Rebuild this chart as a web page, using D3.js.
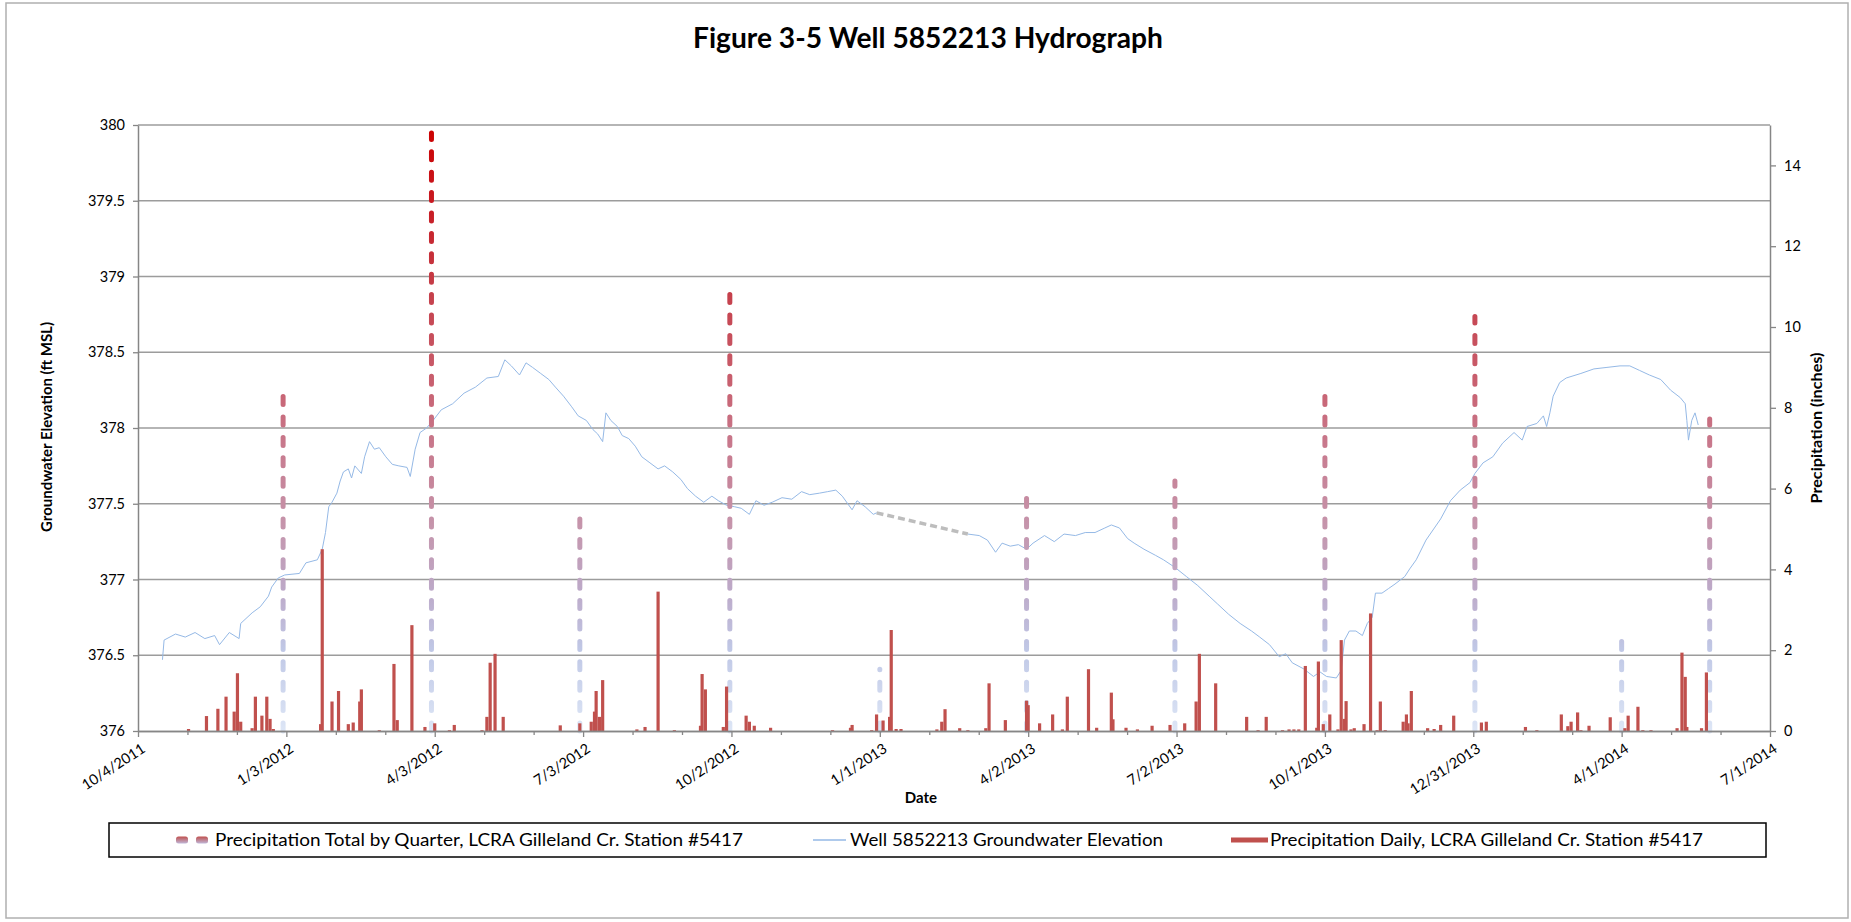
<!DOCTYPE html>
<html>
<head>
<meta charset="utf-8">
<script src="https://cdnjs.cloudflare.com/ajax/libs/d3/7.8.5/d3.min.js"></script>
<style>
  body { margin: 0; background: #fff; }
  svg text { font-family: Lato, "Open Sans", sans-serif; fill: #000; }
</style>
</head>
<body>
<svg id="chart"></svg>
<script>
// ---- data ----
const xTickLabels = ['10/4/2011', '1/3/2012', '4/3/2012', '7/3/2012', '10/2/2012', '1/1/2013',
  '4/2/2013', '7/2/2013', '10/1/2013', '12/31/2013', '4/1/2014', '7/1/2014']
const elevTicks = [376, 376.5, 377, 377.5, 378, 378.5, 379, 379.5, 380]
const precipTicks = [0, 2, 4, 6, 8, 10, 12, 14]

const quarterDates = ['2012-01-01', '2012-04-01', '2012-07-01', '2012-10-01', '2013-01-01', '2013-04-01',
  '2013-07-01', '2013-10-01', '2014-01-01', '2014-04-01', '2014-05-25']
const quarterTotals = [8.40, 14.8, 5.32, 10.96, 1.53, 5.82, 6.19, 8.36, 10.26, 2.29, 7.72]

const dailyDates = [
  '2011-11-04', '2011-11-15', '2011-11-22', '2011-11-27', '2011-12-02', '2011-12-04', '2011-12-06', '2011-12-13',
  '2011-12-15', '2011-12-19', '2011-12-22', '2011-12-24', '2011-12-26', '2012-01-24', '2012-01-25', '2012-01-31',
  '2012-02-04', '2012-02-10', '2012-02-13', '2012-02-17', '2012-02-18', '2012-02-29', '2012-03-09', '2012-03-11',
  '2012-03-20', '2012-03-28', '2012-04-03', '2012-04-12', '2012-04-15', '2012-05-02', '2012-05-05', '2012-05-07',
  '2012-05-10', '2012-05-15', '2012-06-19', '2012-07-01', '2012-07-08', '2012-07-10', '2012-07-11', '2012-07-13',
  '2012-07-15', '2012-08-05', '2012-08-10', '2012-08-18', '2012-08-28', '2012-09-13', '2012-09-14', '2012-09-16',
  '2012-09-27', '2012-09-29', '2012-10-11', '2012-10-13', '2012-10-16', '2012-10-26', '2012-12-03', '2012-12-14',
  '2012-12-15', '2012-12-27', '2012-12-30', '2013-01-03', '2013-01-07', '2013-01-08', '2013-01-11', '2013-01-14',
  '2013-02-05', '2013-02-08', '2013-02-10', '2013-02-19', '2013-02-24', '2013-03-07', '2013-03-09', '2013-03-19',
  '2013-04-01', '2013-04-02', '2013-04-09', '2013-04-17', '2013-04-23', '2013-04-26', '2013-05-09', '2013-05-14',
  '2013-05-23', '2013-05-24', '2013-06-01', '2013-06-08', '2013-06-17', '2013-06-28', '2013-07-07', '2013-07-14',
  '2013-07-16', '2013-07-26', '2013-08-14', '2013-08-21', '2013-08-26', '2013-09-05', '2013-09-09', '2013-09-12',
  '2013-09-15', '2013-09-19', '2013-09-26', '2013-09-27', '2013-09-30', '2013-10-04', '2013-10-09', '2013-10-11',
  '2013-10-13', '2013-10-14', '2013-10-17', '2013-10-19', '2013-10-25', '2013-10-29', '2013-11-02', '2013-11-04',
  '2013-11-07', '2013-11-18', '2013-11-20', '2013-11-21', '2013-11-23', '2013-12-03', '2013-12-07', '2013-12-11',
  '2013-12-19', '2014-01-05', '2014-01-08', '2014-02-01', '2014-02-08', '2014-02-23', '2014-02-27', '2014-03-01',
  '2014-03-05', '2014-03-07', '2014-03-12', '2014-03-25', '2014-04-03', '2014-04-05', '2014-04-11', '2014-04-14',
  '2014-04-19', '2014-05-05', '2014-05-08', '2014-05-10', '2014-05-11', '2014-05-20', '2014-05-23']
const dailyPrecip = [
  0.05, 0.37, 0.55, 0.85, 0.48, 1.43, 0.23, 0.07,
  0.85, 0.38, 0.85, 0.30, 0.05, 0.17, 4.50, 0.73,
  0.99, 0.17, 0.21, 0.73, 1.03, 0.02, 1.66, 0.27,
  2.62, 0.10, 0.19, 0.02, 0.15, 0.02, 0.35, 1.69,
  1.91, 0.35, 0.14, 0.19, 0.23, 0.48, 0.99, 0.35,
  1.26, 0.04, 0.10, 3.45, 0.02, 0.13, 1.41, 1.03,
  0.10, 1.10, 0.38, 0.23, 0.13, 0.08, 0.02, 0.08,
  0.15, 0.02, 0.41, 0.26, 0.35, 2.50, 0.05, 0.05,
  0.04, 0.23, 0.54, 0.07, 0.02, 0.07, 1.18, 0.27,
  0.75, 0.64, 0.19, 0.41, 0.04, 0.85, 1.53, 0.08,
  0.95, 0.29, 0.08, 0.04, 0.13, 0.15, 0.19, 0.73,
  1.91, 1.18, 0.35, 0.02, 0.35, 0.02, 0.04, 0.04,
  0.04, 1.61, 0.08, 1.72, 0.17, 0.41, 0.04, 2.25,
  0.30, 0.74, 0.04, 0.07, 0.17, 2.91, 0.02, 0.73,
  0.02, 0.23, 0.41, 0.19, 0.99, 0.07, 0.05, 0.15,
  0.38, 0.21, 0.23, 0.10, 0.02, 0.41, 0.12, 0.23,
  0.46, 0.02, 0.13, 0.34, 0.07, 0.38, 0.60, 0.02,
  0.02, 0.07, 1.94, 1.34, 0.10, 0.07, 1.45]

const wellDates = [
  '2011-10-19', '2011-10-20', '2011-10-27', '2011-11-02', '2011-11-08', '2011-11-14', '2011-11-20', '2011-11-23',
  '2011-11-29', '2011-12-05', '2011-12-06', '2011-12-13', '2011-12-18', '2011-12-23', '2011-12-25', '2011-12-29',
  '2012-01-02', '2012-01-11', '2012-01-15', '2012-01-22', '2012-01-25', '2012-01-27', '2012-01-29', '2012-01-31',
  '2012-02-03', '2012-02-05', '2012-02-07', '2012-02-10', '2012-02-12', '2012-02-14', '2012-02-18', '2012-02-20',
  '2012-02-23', '2012-02-26', '2012-02-29', '2012-03-04', '2012-03-08', '2012-03-12', '2012-03-17', '2012-03-19',
  '2012-03-22', '2012-03-25', '2012-03-29', '2012-04-02', '2012-04-07', '2012-04-14', '2012-04-21', '2012-04-28',
  '2012-05-05', '2012-05-12', '2012-05-16', '2012-05-20', '2012-05-25', '2012-05-29', '2012-06-02', '2012-06-07',
  '2012-06-12', '2012-06-16', '2012-06-21', '2012-06-26', '2012-06-30', '2012-07-05', '2012-07-09', '2012-07-12',
  '2012-07-15', '2012-07-17', '2012-07-20', '2012-07-24', '2012-07-27', '2012-07-31', '2012-08-04', '2012-08-08',
  '2012-08-13', '2012-08-18', '2012-08-22', '2012-08-27', '2012-09-01', '2012-09-05', '2012-09-10', '2012-09-15',
  '2012-09-20', '2012-09-24', '2012-09-29', '2012-10-04', '2012-10-08', '2012-10-13', '2012-10-17', '2012-10-22',
  '2012-10-27', '2012-11-02', '2012-11-08', '2012-11-14', '2012-11-19', '2012-11-25', '2012-11-30', '2012-12-05',
  '2012-12-09', '2012-12-15', '2012-12-18', '2012-12-23', '2012-12-28', '2012-12-30', '2013-02-24', '2013-03-03',
  '2013-03-08', '2013-03-13', '2013-03-17', '2013-03-22', '2013-03-27', '2013-04-01', '2013-04-05', '2013-04-12',
  '2013-04-18', '2013-04-24', '2013-05-01', '2013-05-07', '2013-05-13', '2013-05-19', '2013-05-23', '2013-05-28',
  '2013-06-02', '2013-06-06', '2013-06-12', '2013-06-19', '2013-06-24', '2013-07-01', '2013-07-08', '2013-07-15',
  '2013-07-22', '2013-07-27', '2013-08-03', '2013-08-10', '2013-08-17', '2013-08-22', '2013-08-28', '2013-09-03',
  '2013-09-07', '2013-09-11', '2013-09-18', '2013-09-24', '2013-09-28', '2013-10-02', '2013-10-08', '2013-10-11',
  '2013-10-13', '2013-10-16', '2013-10-20', '2013-10-24', '2013-10-27', '2013-10-30', '2013-11-01', '2013-11-05',
  '2013-11-09', '2013-11-13', '2013-11-19', '2013-11-22', '2013-11-26', '2013-12-02', '2013-12-11', '2013-12-17',
  '2013-12-23', '2013-12-29', '2014-01-01', '2014-01-06', '2014-01-12', '2014-01-18', '2014-01-25', '2014-01-30',
  '2014-02-02', '2014-02-08', '2014-02-12', '2014-02-14', '2014-02-16', '2014-02-18', '2014-02-22', '2014-02-26',
  '2014-03-07', '2014-03-15', '2014-03-23', '2014-03-31', '2014-04-06', '2014-04-12', '2014-04-18', '2014-04-25',
  '2014-05-01', '2014-05-07', '2014-05-10', '2014-05-11', '2014-05-12', '2014-05-14', '2014-05-16', '2014-05-18']
const wellElev = [
  376.47, 376.60, 376.64, 376.62, 376.65, 376.61, 376.63, 376.57,
  376.65, 376.61, 376.71, 376.78, 376.82, 376.89, 376.95, 377.01,
  377.03, 377.04, 377.11, 377.13, 377.20, 377.31, 377.48, 377.51,
  377.57, 377.65, 377.71, 377.73, 377.67, 377.75, 377.70, 377.81,
  377.91, 377.86, 377.87, 377.81, 377.76, 377.75, 377.74, 377.68,
  377.86, 377.97, 378.00, 378.05, 378.12, 378.16, 378.23, 378.27,
  378.33, 378.34, 378.45, 378.41, 378.35, 378.43, 378.40, 378.36,
  378.32, 378.27, 378.21, 378.14, 378.08, 378.05, 377.99, 377.96,
  377.91, 378.10, 378.05, 378.01, 377.95, 377.93, 377.88, 377.81,
  377.77, 377.73, 377.75, 377.71, 377.66, 377.60, 377.55, 377.51,
  377.55, 377.52, 377.49, 377.48, 377.47, 377.43, 377.52, 377.49,
  377.51, 377.54, 377.53, 377.58, 377.56, 377.57, 377.58, 377.59,
  377.55, 377.46, 377.52, 377.48, 377.43, 377.44, 377.30, 377.29,
  377.26, 377.18, 377.24, 377.22, 377.23, 377.20, 377.24, 377.29,
  377.25, 377.30, 377.29, 377.31, 377.31, 377.34, 377.36, 377.34,
  377.27, 377.24, 377.20, 377.16, 377.13, 377.08, 377.02, 376.96,
  376.89, 376.84, 376.77, 376.71, 376.66, 376.62, 376.57, 376.49,
  376.51, 376.45, 376.41, 376.36, 376.39, 376.36, 376.35, 376.40,
  376.60, 376.66, 376.66, 376.63, 376.71, 376.75, 376.91, 376.91,
  376.94, 376.97, 377.02, 377.07, 377.13, 377.26, 377.40, 377.52,
  377.59, 377.64, 377.70, 377.77, 377.81, 377.90, 377.97, 377.92,
  378.01, 378.03, 378.08, 378.01, 378.10, 378.21, 378.30, 378.33,
  378.36, 378.39, 378.40, 378.41, 378.41, 378.38, 378.35, 378.32,
  378.25, 378.20, 378.16, 378.05, 377.92, 378.05, 378.10, 378.02]

const legendLabels = ['Precipitation Total by Quarter, LCRA Gilleland Cr. Station #5417',
  'Well 5852213 Groundwater Elevation', 'Precipitation Daily, LCRA Gilleland Cr. Station #5417']

// ---- layout ----
const W = 1851, H = 922
const plot = { left: 138, right: 1770, top: 125, bottom: 731 }
const axisColor = '#868686'
const gridColor = '#9c9c9c'
const redColor = '#c0504d'
const wellColor = '#95b9e6'

const parseIso = d3.utcParse('%Y-%m-%d')
const parseTick = d3.utcParse('%m/%d/%Y')

const svg = d3.select('#chart').attr('width', W).attr('height', H)

const x = d3.scaleUtc()
  .domain([parseTick('10/4/2011'), parseTick('7/1/2014')])
  .range([plot.left, plot.right])
const yL = d3.scaleLinear().domain([376, 380]).range([plot.bottom, plot.top])
const yR = d3.scaleLinear().domain([0, 15]).range([plot.bottom, plot.top])

function fitText(sel, width) {
  sel.attr('textLength', width).attr('lengthAdjust', 'spacingAndGlyphs')
}

// outer chart border
svg.append('rect')
  .attr('x', 6).attr('y', 3).attr('width', 1842).attr('height', 915)
  .attr('fill', 'none').attr('stroke', '#b0b0b0').attr('stroke-width', 1.5)

// gradient for the quarterly totals (changes with height on the precip axis)
const defs = svg.append('defs')
const qGrad = defs.append('linearGradient')
  .attr('id', 'qGrad').attr('gradientUnits', 'userSpaceOnUse')
  .attr('x1', 0).attr('x2', 0).attr('y1', yR(15)).attr('y2', yR(0))
const qStops = [[15, '#cc0000'], [13, '#c81a22'], [11, '#c53d48'], [9, '#c85a68'], [7, '#c87a8e'],
  [5, '#c596ad'], [3.5, '#bda9c8'], [2, '#c0c8e6'], [0, '#dde6f6']]
qStops.forEach(s => {
  qGrad.append('stop').attr('offset', 1 - s[0] / 15).attr('stop-color', s[1])
})
const swGrad = defs.append('linearGradient')
  .attr('id', 'swGrad').attr('x1', 0).attr('x2', 0).attr('y1', 0).attr('y2', 1)
swGrad.append('stop').attr('offset', 0).attr('stop-color', '#c0504d')
swGrad.append('stop').attr('offset', 1).attr('stop-color', '#bfb6d8')

// gridlines
svg.append('g').selectAll('line')
  .data(elevTicks.filter(d => d > 376))
  .join('line')
    .attr('x1', plot.left).attr('x2', plot.right)
    .attr('y1', d => yL(d)).attr('y2', d => yL(d))
    .attr('stroke', gridColor).attr('stroke-width', 1.4)

// well hydrograph: solid where continuous, grey dashed across the data gap
const well = wellDates.map((d, i) => [parseIso(d), wellElev[i]])
const segments = [[]]
const gaps = []
well.forEach((p, i) => {
  if (i > 0 && (p[0] - well[i - 1][0]) > 20 * 864e5) {
    gaps.push([well[i - 1], p])
    segments.push([])
  }
  segments[segments.length - 1].push(p)
})
const wellLine = d3.line().x(d => x(d[0])).y(d => yL(d[1]))
svg.append('g').selectAll('path.gap')
  .data(gaps)
  .join('path')
    .attr('class', 'gap')
    .attr('d', wellLine)
    .attr('fill', 'none').attr('stroke', '#bdbdbd')
    .attr('stroke-width', 3.5).attr('stroke-dasharray', '7,4')
svg.append('g').selectAll('path.well')
  .data(segments)
  .join('path')
    .attr('class', 'well')
    .attr('d', wellLine)
    .attr('fill', 'none').attr('stroke', wellColor).attr('stroke-width', 1)

// quarterly totals as dashed columns
svg.append('g').selectAll('line')
  .data(quarterDates.map((d, i) => [parseIso(d), quarterTotals[i]]))
  .join('line')
    .attr('x1', d => x(d[0])).attr('x2', d => x(d[0]))
    .attr('y1', yR(0)).attr('y2', d => yR(d[1]))
    .attr('stroke', 'url(#qGrad)').attr('stroke-width', 5)
    .attr('stroke-linecap', 'round').attr('stroke-dasharray', '8,12.4')

// daily precipitation spikes
svg.append('g').selectAll('line')
  .data(dailyDates.map((d, i) => [parseIso(d), dailyPrecip[i]]))
  .join('line')
    .attr('x1', d => x(d[0])).attr('x2', d => x(d[0]))
    .attr('y1', yR(0)).attr('y2', d => yR(d[1]))
    .attr('stroke', redColor).attr('stroke-width', 3.2)

// axes
function styleAxis(g) {
  g.selectAll('path.domain').attr('stroke', axisColor).attr('stroke-width', 1.5)
  g.selectAll('.tick line').attr('stroke', axisColor).attr('stroke-width', 1.3)
  g.selectAll('.tick text').attr('fill', '#000').style('font-size', '14.5px')
    .style('font-family', 'Lato, sans-serif')
}

svg.append('g')
  .attr('transform', `translate(${plot.left},0)`)
  .call(d3.axisLeft(yL).tickValues(elevTicks).tickSize(5).tickSizeOuter(0).tickPadding(8)
    .tickFormat(d => String(d)))
  .call(styleAxis)

svg.append('g')
  .attr('transform', `translate(${plot.right},0)`)
  .call(d3.axisRight(yR).tickValues(precipTicks).tickSize(6).tickSizeOuter(0).tickPadding(8))
  .call(styleAxis)

const majorDates = xTickLabels.map(parseTick)
const minorDates = []
for (let i = 0; i < majorDates.length - 1; i++) {
  const step = (majorDates[i + 1] - majorDates[i]) / 3
  minorDates.push(new Date(+majorDates[i] + step), new Date(+majorDates[i] + 2 * step))
}
svg.append('g')
  .attr('transform', `translate(0,${plot.bottom})`)
  .call(d3.axisBottom(x).tickValues(minorDates).tickSize(4).tickSizeOuter(0).tickFormat(''))
  .call(styleAxis)
const xAxis = svg.append('g')
  .attr('transform', `translate(0,${plot.bottom})`)
  .call(d3.axisBottom(x).tickValues(majorDates).tickSize(6).tickSizeOuter(0)
    .tickFormat((d, i) => xTickLabels[i]))
  .call(styleAxis)
xAxis.selectAll('.tick text')
  .attr('text-anchor', 'end')
  .attr('dy', '0.35em')
  .attr('transform', 'translate(5,16) rotate(-33)')
  .attr('y', 0).attr('x', 0)

// titles
svg.append('text')
  .attr('x', 928).attr('y', 48)
  .attr('text-anchor', 'middle')
  .style('font-size', '28px').style('font-weight', 'bold')
  .text('Figure 3-5 Well 5852213 Hydrograph')
  .call(fitText, 470)

svg.append('text')
  .attr('transform', 'translate(52,427) rotate(-90)')
  .attr('text-anchor', 'middle')
  .style('font-size', '15px').style('font-weight', 'bold')
  .text('Groundwater Elevation (ft MSL)')
  .call(fitText, 210)

svg.append('text')
  .attr('transform', 'translate(1822,428) rotate(-90)')
  .attr('text-anchor', 'middle')
  .style('font-size', '15px').style('font-weight', 'bold')
  .text('Precipitation (inches)')
  .call(fitText, 151)

svg.append('text')
  .attr('x', 921).attr('y', 803)
  .attr('text-anchor', 'middle')
  .style('font-size', '15px').style('font-weight', 'bold')
  .text('Date')

// legend
const legend = svg.append('g')
legend.append('rect')
  .attr('x', 109).attr('y', 823).attr('width', 1657).attr('height', 34)
  .attr('fill', '#fff').attr('stroke', '#000').attr('stroke-width', 1.5)
const legY = 840
legend.selectAll('rect.sw')
  .data([176, 196])
  .join('rect')
    .attr('class', 'sw')
    .attr('x', d => d).attr('y', legY - 3.5).attr('width', 12).attr('height', 7)
    .attr('rx', 2.5).attr('fill', 'url(#swGrad)')
legend.append('line')
  .attr('x1', 813).attr('x2', 846).attr('y1', legY).attr('y2', legY)
  .attr('stroke', wellColor).attr('stroke-width', 1.5)
legend.append('line')
  .attr('x1', 1231).attr('x2', 1268).attr('y1', legY).attr('y2', legY)
  .attr('stroke', redColor).attr('stroke-width', 5)
const legText = [[215, 528], [850, 313], [1270, 433]]
legend.selectAll('text')
  .data(legendLabels)
  .join('text')
    .attr('x', (d, i) => legText[i][0]).attr('y', legY + 6)
    .style('font-size', '17px')
    .text(d => d)
    .each(function (d, i) { d3.select(this).call(fitText, legText[i][1]) })
</script>
</body>
</html>
